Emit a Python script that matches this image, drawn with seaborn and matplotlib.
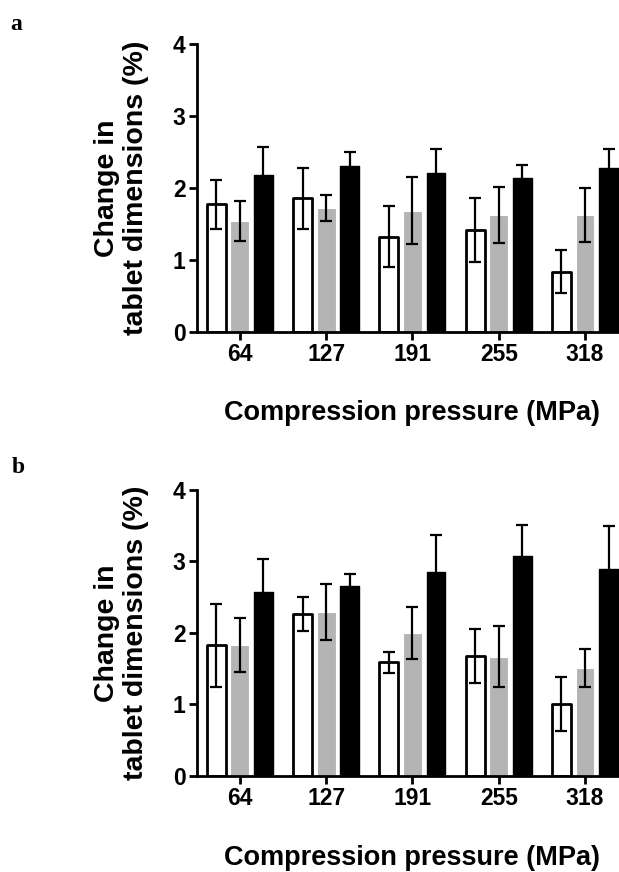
import matplotlib
matplotlib.use("Agg")
import pandas as pd
import matplotlib.pyplot as plt
import seaborn as sns

# Data (mean and SD, %)
PRESSURES = ["64", "127", "191", "255", "318"]
SERIES = ["white", "grey", "black"]

A_WHITE = [1.78, 1.86, 1.33, 1.42, 0.84]
A_WHITE_ERR = [0.34, 0.42, 0.42, 0.45, 0.30]
A_GREY = [1.55, 1.73, 1.69, 1.63, 1.63]
A_GREY_ERR = [0.28, 0.18, 0.47, 0.39, 0.37]
A_BLACK = [2.19, 2.31, 2.21, 2.15, 2.28]
A_BLACK_ERR = [0.38, 0.19, 0.33, 0.17, 0.26]

B_WHITE = [1.83, 2.27, 1.59, 1.68, 1.01]
B_WHITE_ERR = [0.58, 0.24, 0.15, 0.38, 0.38]
B_GREY = [1.83, 2.29, 2.00, 1.67, 1.51]
B_GREY_ERR = [0.38, 0.39, 0.37, 0.43, 0.27]
B_BLACK = [2.57, 2.66, 2.85, 3.08, 2.89]
B_BLACK_ERR = [0.47, 0.17, 0.52, 0.43, 0.60]

COLORS = {"white": "#ffffff", "grey": "#b4b4b4", "black": "#000000"}

sns.set_style("ticks")
plt.rcParams.update({
    "font.family": ["Liberation Sans", "DejaVu Sans"],
    "font.weight": "bold",
    "axes.labelweight": "bold",
    "axes.linewidth": 2.0,
    "axes.edgecolor": "black",
    "axes.labelcolor": "black",
    "text.color": "black",
    "xtick.color": "black",
    "ytick.color": "black",
})


def make_frame(white, grey, black):
    rows = []
    for name, vals in zip(SERIES, [white, grey, black]):
        for p, v in zip(PRESSURES, vals):
            rows.append({"pressure": p, "series": name, "value": v})
    return pd.DataFrame(rows)


def draw_panel(ax, means, errs, xlabel_y):
    df = make_frame(*means)
    sns.barplot(data=df, x="pressure", y="value", hue="series",
                order=PRESSURES, hue_order=SERIES, palette=COLORS,
                width=0.82, gap=0.2, saturation=1, errorbar=None,
                legend=False, ax=ax, zorder=2)

    for name, cont, vals, err in zip(SERIES, ax.containers, means, errs):
        for bar in cont:
            bar.set_joinstyle("round")
            if name == "white":
                bar.set_edgecolor("black")
                bar.set_linewidth(2.0)
            elif name == "grey":
                bar.set_edgecolor("white")
                bar.set_linewidth(0.8)
            else:
                bar.set_edgecolor("black")
                bar.set_linewidth(1.0)
        xs = [b.get_x() + b.get_width() / 2 for b in cont]
        ax.errorbar(xs, vals, yerr=err, fmt="none", ecolor="black",
                    elinewidth=1.6, capsize=4.5, capthick=1.6, zorder=3)

    ax.set_xlim(-0.5, 4.5)
    ax.set_ylim(0, 4)
    ax.set_yticks([0, 1, 2, 3, 4])
    sns.despine(ax=ax)
    ax.tick_params(axis="both", length=6, width=2, pad=2, labelsize=16.5,
                   color="black", labelcolor="black")
    for lab in ax.get_xticklabels() + ax.get_yticklabels():
        lab.set_fontweight("bold")

    ax.set_ylabel("Change in\ntablet dimensions (%)", fontsize=20.5,
                  fontweight="bold", linespacing=1.15)
    ax.yaxis.set_label_coords(-0.11, 0.5)
    ax.set_xlabel("Compression pressure (MPa)", fontsize=19.5,
                  fontweight="bold")
    ax.xaxis.set_label_coords(0.5, xlabel_y)


fig = plt.figure(figsize=(6.19, 8.72), dpi=100)
ax_a = fig.add_axes([0.3178, 0.6189, 0.697, 0.3303])
ax_b = fig.add_axes([0.3178, 0.1101, 0.697, 0.3280])

draw_panel(ax_a, [A_WHITE, A_GREY, A_BLACK],
           [A_WHITE_ERR, A_GREY_ERR, A_BLACK_ERR], -0.236)
draw_panel(ax_b, [B_WHITE, B_GREY, B_BLACK],
           [B_WHITE_ERR, B_GREY_ERR, B_BLACK_ERR], -0.242)

fig.text(0.0162, 0.9656, "a", family=["Liberation Serif", "DejaVu Serif"],
         fontweight="bold", fontsize=17, va="baseline")
fig.text(0.019, 0.4576, "b", family=["Liberation Serif", "DejaVu Serif"],
         fontweight="bold", fontsize=17, va="baseline")

fig.savefig("out.png", dpi=100)
